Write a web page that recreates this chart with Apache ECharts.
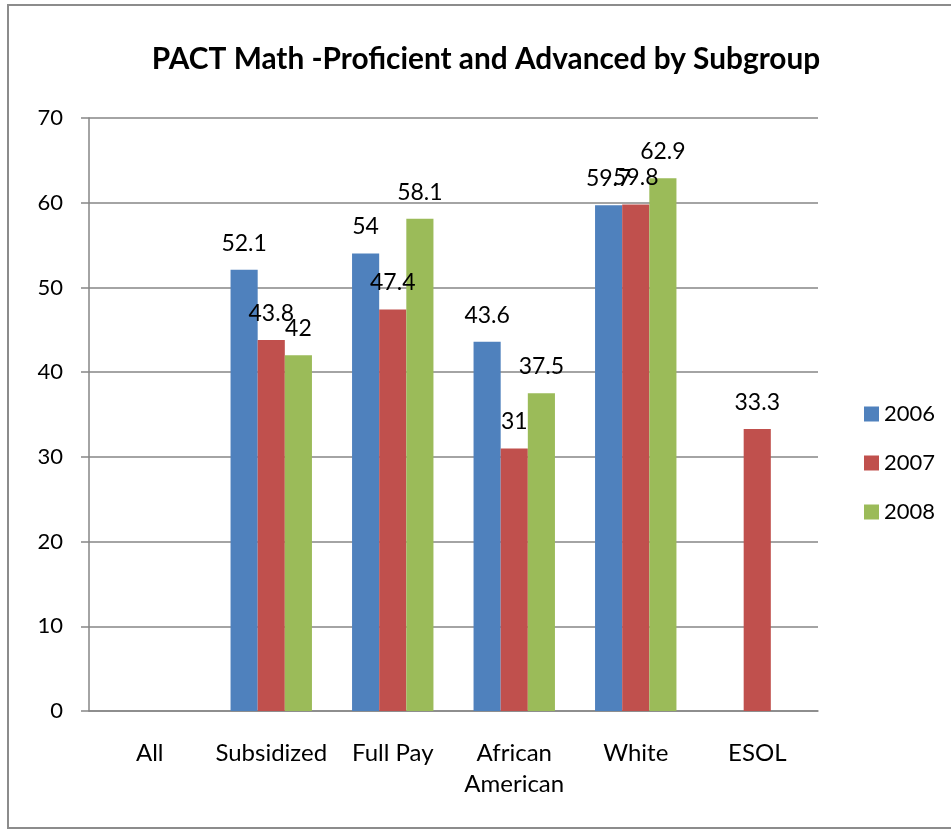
<!DOCTYPE html>
<html lang="en">
<head>
    <meta charset="UTF-8">
    <title>PACT Math</title>
    <script src="https://cdn.jsdelivr.net/npm/echarts@6/dist/echarts.min.js"></script>
    <style>
        html, body { margin: 0; padding: 0; background: #fff; }
        #main { width: 951px; height: 829px; }
    </style>
</head>
<body>
<div id="main"></div>
<script>
    // data
    var categories = ['All', 'Subsidized', 'Full Pay', 'African\nAmerican', 'White', 'ESOL'];
    var years = ['2006', '2007', '2008'];
    var data2006 = [null, 52.1, 54, 43.6, 59.7, null];
    var data2007 = [null, 43.8, 47.4, 31, 59.8, 33.3];
    var data2008 = [null, 42, 58.1, 37.5, 62.9, null];
    var colors = ['#4F81BD', '#C0504D', '#9BBB59'];

    var font = 'Lato, "Open Sans", sans-serif';
    var myChart = echarts.init(document.getElementById('main'));

    function makeSeries(name, values) {
        return {
            name: name,
            type: 'bar',
            barGap: '0%',
            barCategoryGap: '33%',
            data: values,
            label: {
                show: true,
                position: 'top',
                distance: 15,
                color: '#000',
                fontSize: 23,
                fontFamily: font
            }
        };
    }

    var option = {
        animation: false,
        color: colors,
        title: {
            text: 'PACT Math -Proficient and Advanced by Subgroup',
            left: 481,
            textAlign: 'center',
            top: 39,
            textStyle: { fontSize: 29.8, fontWeight: 'bold', color: '#000', fontFamily: font }
        },
        graphic: [{
            type: 'rect',
            shape: { x: 8, y: 5, width: 960, height: 823 },
            style: { fill: 'none', stroke: '#8c8c8c', lineWidth: 2 },
            silent: true
        }],
        legend: {
            orient: 'vertical',
            left: 859,
            top: 398,
            itemWidth: 15,
            itemHeight: 15,
            itemGap: 27,
            icon: 'rect',
            data: years,
            textStyle: { fontSize: 22, lineHeight: 22, color: '#000', fontFamily: font }
        },
        grid: { left: 89, right: 133, top: 118, bottom: 118 },
        xAxis: {
            type: 'category',
            data: categories,
            axisLine: { lineStyle: { color: '#868686', width: 1.5 } },
            axisTick: { length: 7, lineStyle: { color: '#868686', width: 1.5 } },
            axisLabel: { fontSize: 24, color: '#000', fontFamily: font, margin: 27, lineHeight: 31, interval: 0 }
        },
        yAxis: {
            type: 'value',
            min: 0,
            max: 70,
            interval: 10,
            axisLine: { show: true, lineStyle: { color: '#868686', width: 1.5 } },
            axisTick: { show: true, length: 8, lineStyle: { color: '#868686', width: 1.5 } },
            splitLine: { lineStyle: { color: '#868686', width: 1.5 } },
            axisLabel: { fontSize: 22, color: '#000', fontFamily: font, margin: 26 }
        },
        series: [
            makeSeries('2006', data2006),
            makeSeries('2007', data2007),
            makeSeries('2008', data2008)
        ]
    };
    myChart.setOption(option);
</script>
</body>
</html>
